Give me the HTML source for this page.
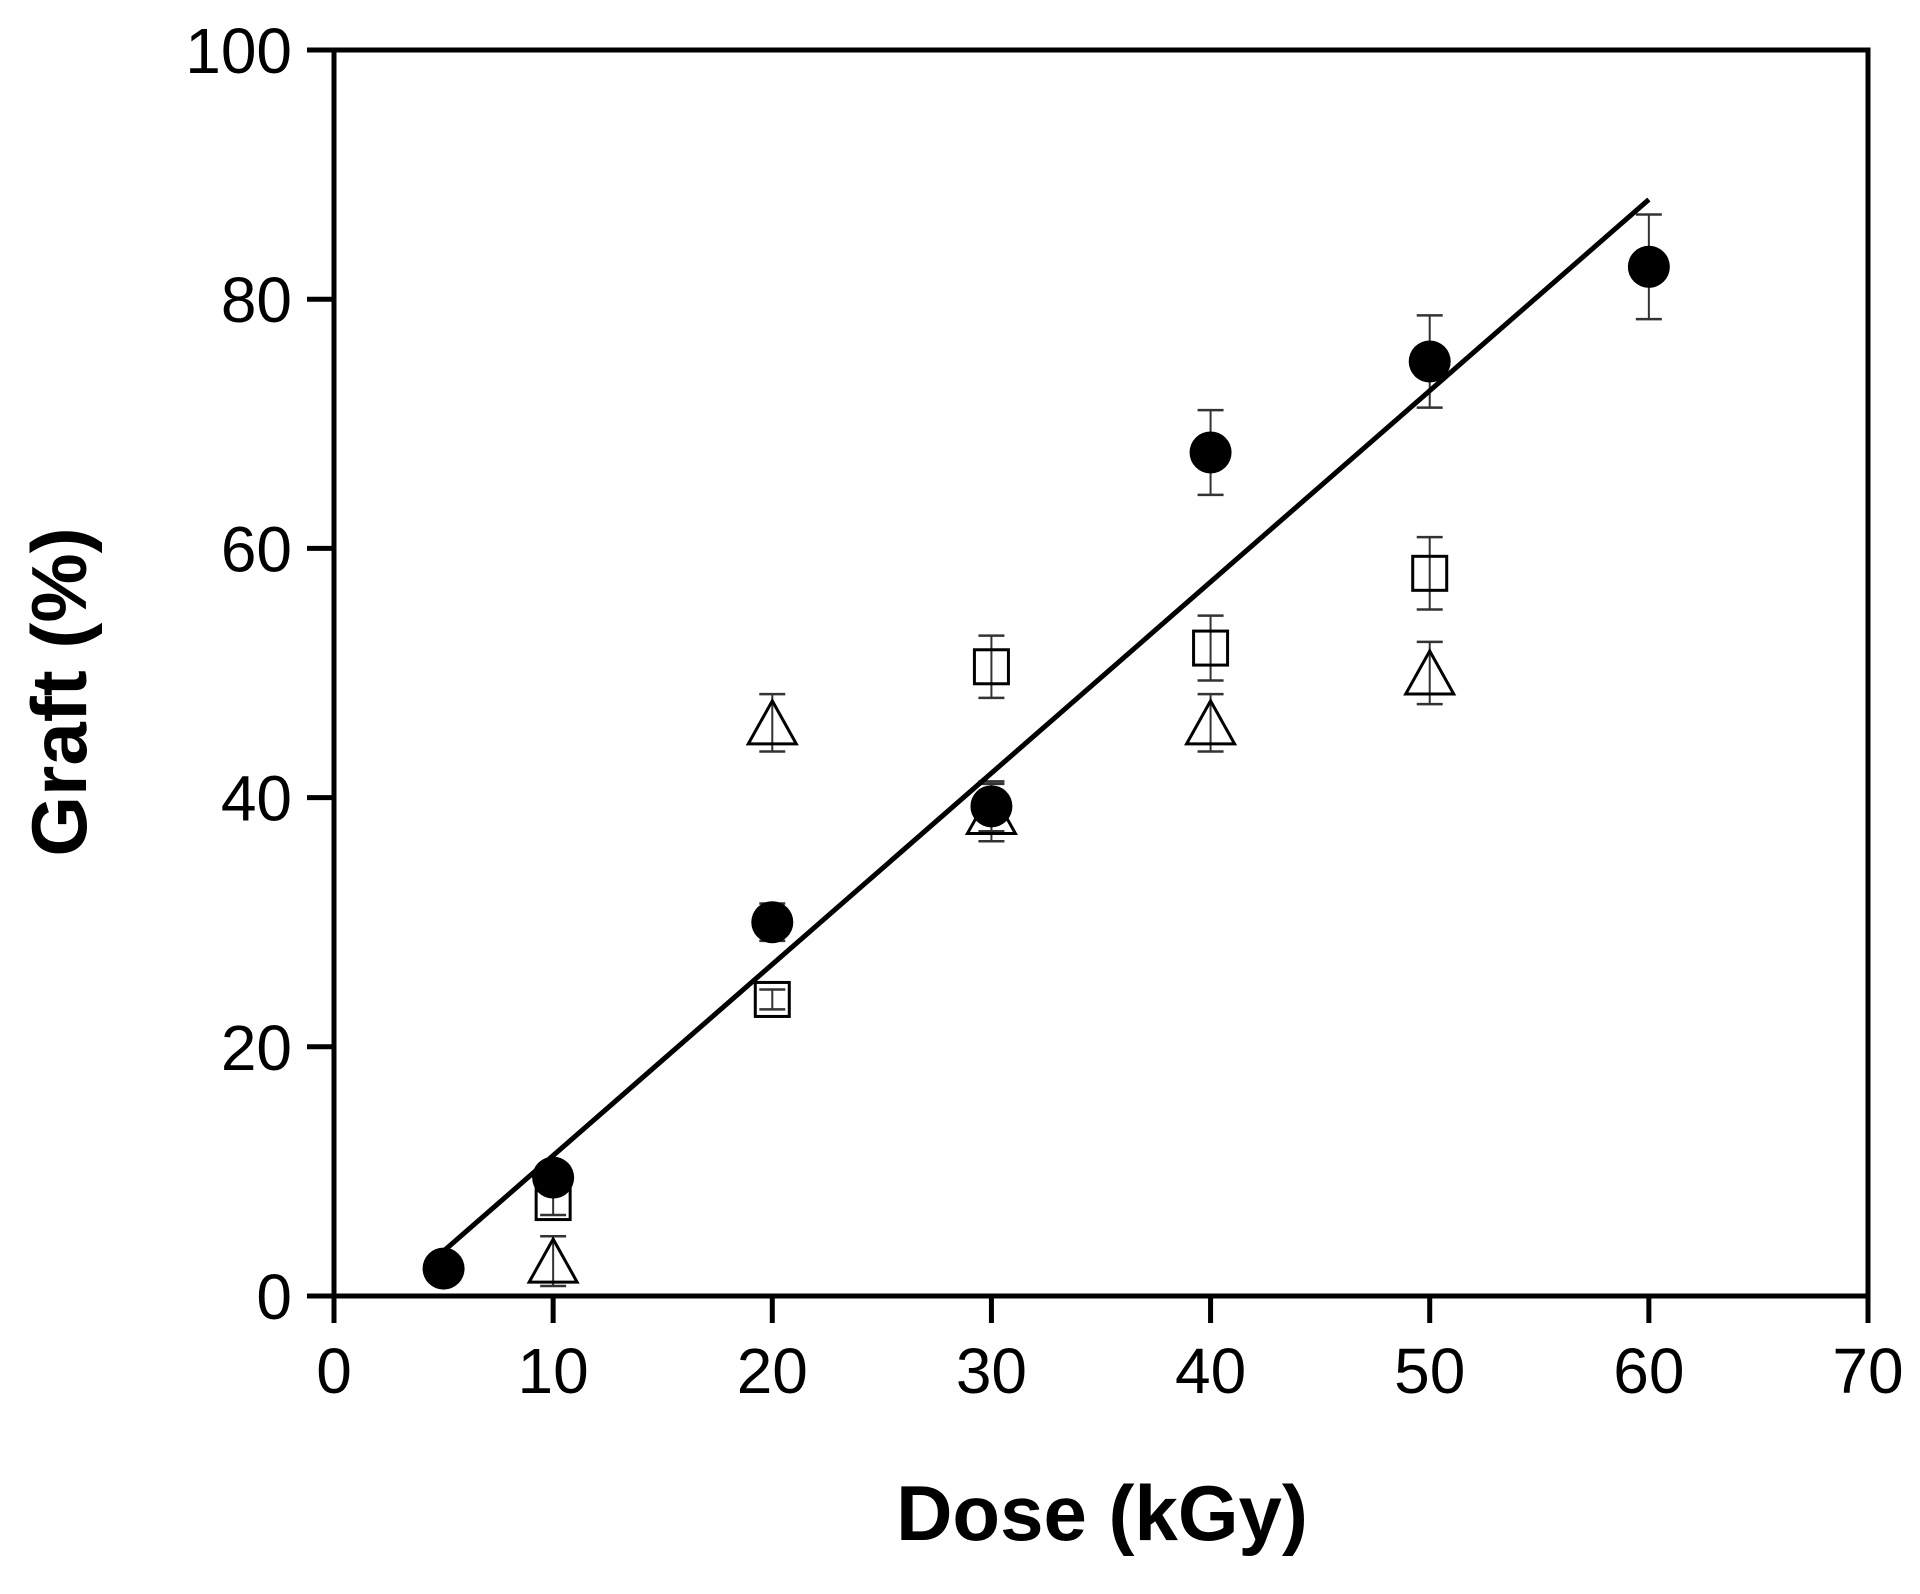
<!DOCTYPE html>
<html><head><meta charset="utf-8"><style>
html,body{margin:0;padding:0;background:#fff;}
svg text{font-family:"Liberation Sans",Arial,sans-serif;}
</style></head><body>
<svg width="1920" height="1589" xmlns="http://www.w3.org/2000/svg">
<g id="plot"></g>
</svg>
<script>
const NS="http://www.w3.org/2000/svg";
const g=document.getElementById('plot');
const L=334,R=1868,T=50,B=1296;
const X=v=>L+v*(R-L)/70, Y=v=>B-v*(B-T)/100;
function el(t,a,txt){const e=document.createElementNS(NS,t);for(const k in a)e.setAttribute(k,a[k]);if(txt!==undefined)e.textContent=txt;g.appendChild(e);return e;}
function eb(x,y,e){const cx=X(x);el('line',{x1:cx,x2:cx,y1:Y(y+e),y2:Y(y-e),stroke:'#333','stroke-width':2});
 [y+e,y-e].forEach(v=>el('line',{x1:cx-13,x2:cx+13,y1:Y(v),y2:Y(v),stroke:'#333','stroke-width':2.5}));}
const circ=[[5,2.2,0.5],[10,9.5,0.8],[20,30,1.5],[30,39.3,2],[40,67.7,3.4],[50,75,3.7],[60,82.6,4.2]];
const sq=[[10,7.5,1],[20,23.8,0.8],[30,50.5,2.5],[40,52,2.6],[50,58,2.9]];
const tri=[[10,2.8,2],[20,46,2.3],[30,38.8,2.3],[40,46,2.3],[50,50,2.5]];
[...circ,...sq,...tri].forEach(d=>eb(...d));
sq.forEach(d=>el('rect',{x:X(d[0])-17,y:Y(d[1])-17,width:34,height:34,fill:'none',stroke:'#000','stroke-width':3}));
tri.forEach(d=>{const cx=X(d[0]),cy=Y(d[1]);el('polygon',{points:`${cx},${cy-22} ${cx-24},${cy+21} ${cx+24},${cy+21}`,fill:'none',stroke:'#000','stroke-width':3});});
circ.forEach(d=>el('circle',{cx:X(d[0]),cy:Y(d[1]),r:21,fill:'#000'}));
el('line',{x1:X(5),y1:Y(3.6),x2:X(60),y2:Y(88),stroke:'#000','stroke-width':5});
el('rect',{x:L,y:T,width:R-L,height:B-T,fill:'none',stroke:'#000','stroke-width':5});
for(let v=0;v<=70;v+=10){el('line',{x1:X(v),x2:X(v),y1:B,y2:B+27,stroke:'#000','stroke-width':5});
 el('text',{x:X(v),y:1393,'font-size':64,'text-anchor':'middle'},String(v));}
for(let v=0;v<=100;v+=20){el('line',{x1:L-27,x2:L,y1:Y(v),y2:Y(v),stroke:'#000','stroke-width':5});
 el('text',{x:292,y:Y(v)+23,'font-size':64,'text-anchor':'end'},String(v));}
el('text',{x:1102,y:1540,'font-size':78,'font-weight':'bold','text-anchor':'middle'},'Dose (kGy)');
el('text',{x:0,y:0,'font-size':78,'font-weight':'bold','text-anchor':'middle',transform:'translate(86,692) rotate(-90)'},'Graft (%)');
</script>
</body></html>
